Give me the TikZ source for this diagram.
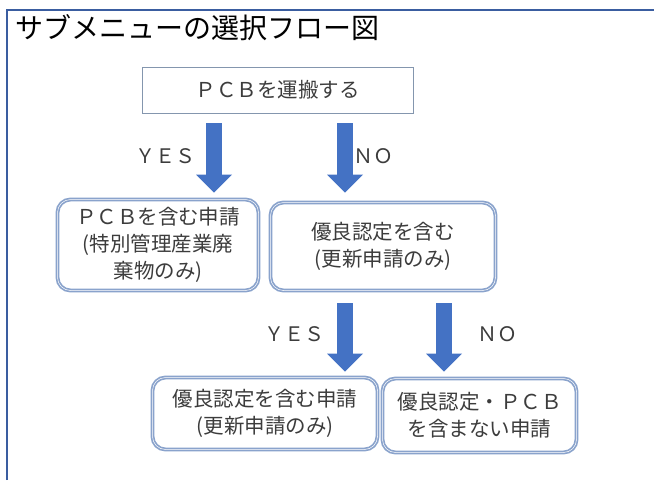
\documentclass[tikz,border=0pt]{standalone}
\usepackage{fontspec}
\setmainfont{Noto Sans CJK JP}
\usetikzlibrary{arrows.meta}
\definecolor{framebl}{HTML}{3A5DA0}
\definecolor{arrowbl}{HTML}{4472C4}
\definecolor{boxline}{HTML}{8AA3CC}
\definecolor{topline}{HTML}{8496AE}
\definecolor{txt}{HTML}{3C3C3C}
\tikzset{
  boxtext/.style={text=txt, font=\fontsize{20.5}{27}\selectfont, align=center, inner sep=0pt},
  plainbox/.style={boxtext, draw=topline, line width=1pt, fill=white},
  roundbox/.style={boxtext, rounded corners=13pt, draw=boxline, line width=1.7pt, double=white, double distance=0.5pt},
  lbl/.style={text=txt, font=\fontsize{20}{24}\selectfont, inner sep=0pt},
  bigarrow/.style={draw=arrowbl, line width=16pt, -{Triangle[width=36pt,length=18pt,line width=0pt]}}
}
\begin{document}
\begin{tikzpicture}[x=1pt,y=-1pt]
\useasboundingbox (0,0) rectangle (654,480);
\fill[white] (0,0) rectangle (654,480);
% frame
\draw[framebl, line width=2.2pt] (7,480) -- (7,10) -- (654,10);
% title
\node[anchor=west, inner sep=0pt, font=\fontsize{28}{32}\selectfont] (title) at (15,28) {サブメニューの選択フロー図};
% boxes
\node[plainbox, minimum width=271pt, minimum height=46pt] (top) at (277.5,90) {ＰＣＢを運搬する};
\node[roundbox, minimum width=201pt, minimum height=91pt] (lbox) at (158,245) {ＰＣＢを含む申請\\(特別管理産業廃\\棄物のみ)};
\node[roundbox, minimum width=225pt, minimum height=88pt] (mbox) at (383,246.5) {優良認定を含む\\(更新申請のみ)};
\node[roundbox, minimum width=225pt, minimum height=72pt] (blbox) at (265,413.5) {優良認定を含む申請\\(更新申請のみ)};
\node[roundbox, minimum width=194pt, minimum height=74pt] (brbox) at (479.5,415.5) {優良認定・ＰＣＢ\\を含まない申請};
% arrows
\coordinate (a1) at (214,123);
\coordinate (a2) at (345,123);
\coordinate (a3) at (345,303);
\coordinate (a4) at (444,303);
\draw[bigarrow, shorten >=6pt] (a1) -- (a1 |- lbox.north);
\draw[bigarrow, shorten >=9pt] (a2) -- (a2 |- mbox.north);
\draw[bigarrow, shorten >=5pt] (a3) -- (a3 |- blbox.north);
\draw[bigarrow, shorten >=6pt] (a4) -- (a4 |- brbox.north);
% labels
\node[lbl] (yes1) at (165,156) {ＹＥＳ};
\node[lbl] (no1) at (373,156) {ＮＯ};
\node[lbl] (yes2) at (294,334) {ＹＥＳ};
\node[lbl] (no2) at (497,334) {ＮＯ};
\end{tikzpicture}
\end{document}
